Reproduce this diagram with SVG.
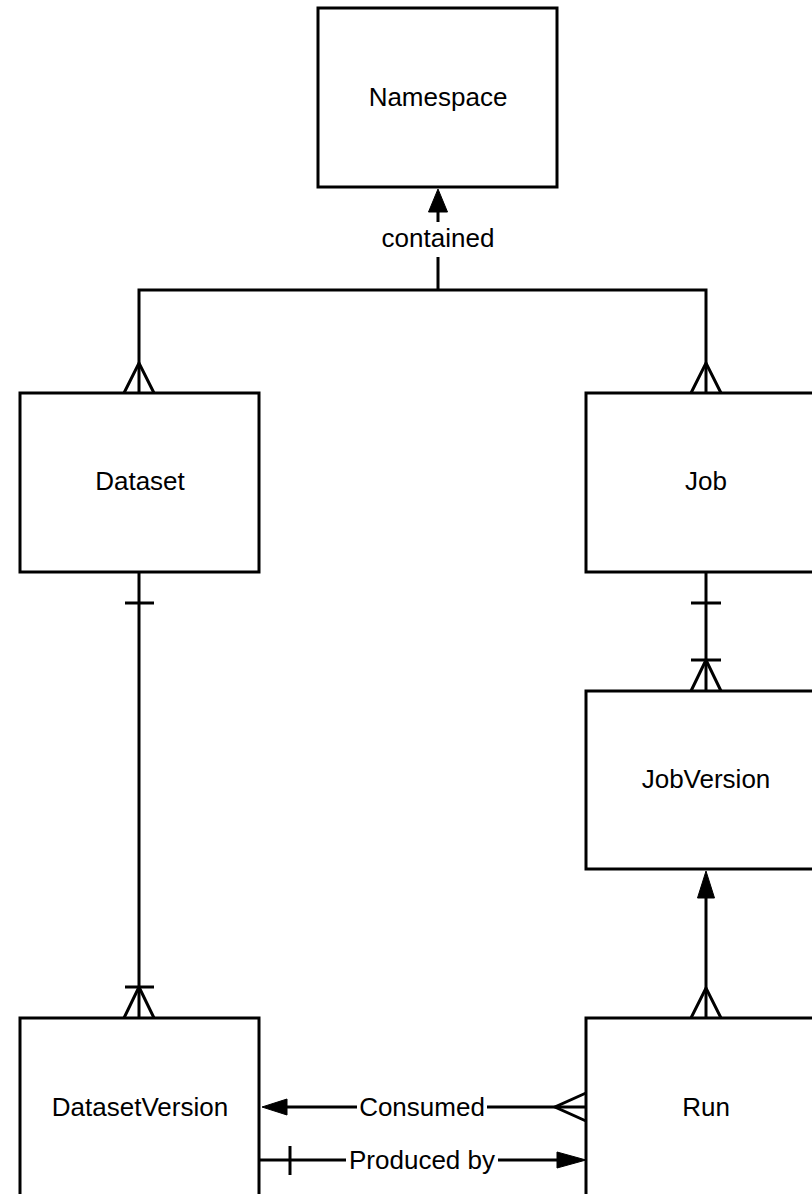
<svg xmlns="http://www.w3.org/2000/svg" width="812" height="1194" viewBox="0 0 812 1194">
<style>
.box{fill:#fff;stroke:#000;stroke-width:3}
.ln{fill:none;stroke:#000;stroke-width:3}
.lbl{font-family:"Liberation Sans",Arial,sans-serif;font-size:26px;fill:#000;text-anchor:middle}
.ah{fill:#000;stroke:#000;stroke-width:1}
.bg{fill:#fff}
</style>
<rect width="812" height="1194" fill="#fff"/>
<g id="connectors">
  <!-- contained -->
  <path class="ln" d="M438 290 V257 M438 222 V205"/>
  <polygon class="ah" points="438,189 428.5,212 447.5,212"/>
  <text class="lbl" x="438" y="247">contained</text>
  <path class="ln" d="M139 393 V290 H706 V393"/>
  <path class="ln" d="M124 393 L139 363 L154 393"/>
  <path class="ln" d="M691 393 L706 363 L721 393"/>
  <!-- Dataset to DatasetVersion -->
  <path class="ln" d="M139 572 V1018"/>
  <path class="ln" d="M125 603 H154"/>
  <path class="ln" d="M125 987 H154"/>
  <path class="ln" d="M124 1018 L139 987 L154 1018"/>
  <!-- Job to JobVersion -->
  <path class="ln" d="M706 572 V691"/>
  <path class="ln" d="M691 603 H721"/>
  <path class="ln" d="M691 660 H721"/>
  <path class="ln" d="M691 691 L706 660 L721 691"/>
  <!-- Run to JobVersion -->
  <path class="ln" d="M706 1018 V895"/>
  <polygon class="ah" points="706,871 697.5,898 714.5,898"/>
  <path class="ln" d="M691 1018 L706 988 L721 1018"/>
  <!-- Consumed -->
  <path class="ln" d="M284 1107 H586"/>
  <polygon class="ah" points="262,1107 287,1099 287,1115"/>
  <path class="ln" d="M586 1093 L555 1107 L586 1121"/>
  <rect class="bg" x="357" y="1092" width="130" height="28"/>
  <text class="lbl" x="422" y="1116">Consumed</text>
  <!-- Produced by -->
  <path class="ln" d="M259 1160 H560"/>
  <polygon class="ah" points="586,1160 557,1152 557,1168"/>
  <path class="ln" d="M290 1146 V1175"/>
  <rect class="bg" x="346" y="1145" width="152" height="30"/>
  <text class="lbl" x="422" y="1169">Produced by</text>
</g>
<g id="node-namespace">
  <rect class="box" x="318" y="8" width="239" height="179"/>
  <text class="lbl" x="438" y="106">Namespace</text>
</g>
<g id="node-dataset">
  <rect class="box" x="20" y="393" width="239" height="179"/>
  <text class="lbl" x="140" y="490">Dataset</text>
</g>
<g id="node-job">
  <rect class="box" x="586" y="393" width="239" height="179"/>
  <text class="lbl" x="706" y="490">Job</text>
</g>
<g id="node-jobversion">
  <rect class="box" x="586" y="691" width="239" height="178"/>
  <text class="lbl" x="706" y="788">JobVersion</text>
</g>
<g id="node-datasetversion">
  <rect class="box" x="20" y="1018" width="239" height="190"/>
  <text class="lbl" x="140" y="1116">DatasetVersion</text>
</g>
<g id="node-run">
  <rect class="box" x="586" y="1018" width="239" height="190"/>
  <text class="lbl" x="706" y="1116">Run</text>
</g>
</svg>
